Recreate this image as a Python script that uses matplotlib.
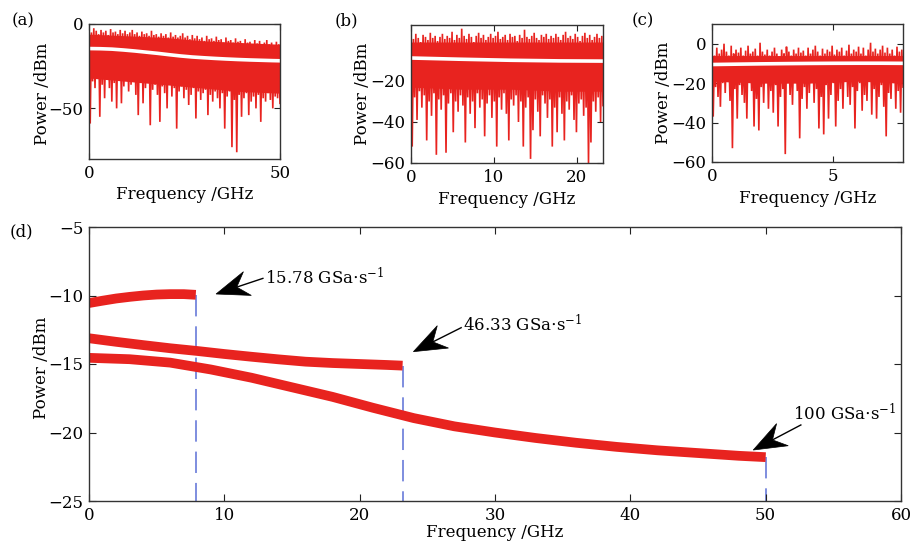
import numpy as np
import matplotlib
matplotlib.use("Agg")
import matplotlib.pyplot as plt
from matplotlib.patches import Polygon

plt.rcParams['font.family'] = ['DejaVu Serif']
plt.rcParams['mathtext.fontset'] = 'dejavuserif'
plt.rcParams['axes.unicode_minus'] = True

# ---------------- data ----------------
# panel (a): 100 GSa/s, span 0-50 GHz
span_a = 50.0
peaks_a = [-3, -5, -2.5, -4, -6, -3.5, -5, -4, -6.5, -3,
           -5, -4.5, -6, -3.5, -5.5, -4, -6, -5, -3.5, -6,
           -5, -7, -4.5, -6, -5.5, -7, -4, -6.5, -6, -7.5,
           -5.5, -7, -6, -8, -5, -7.5, -6.5, -8, -7, -5.5,
           -8, -7, -9, -6.5, -8.5, -7, -9, -8, -10, -7,
           -9, -8.5, -10, -7.5, -9.5, -9, -11, -8, -10, -9.5,
           -11, -8.5, -10.5, -10, -12, -9, -11, -10.5, -12, -9.5,
           -11.5, -10, -12.5, -11, -9.5, -12, -11, -13, -10.5, -12]
dips_a = [-59, -34, -38, -30, -55, -36, -44, -32, -38, -46,
          -35, -50, -33, -47, -37, -31, -40, -36, -34, -42,
          -54, -35, -47, -38, -33, -60, -39, -36, -42, -58,
          -37, -41, -50, -36, -43, -38, -62, -40, -37, -44,
          -39, -48, -42, -38, -56, -40, -45, -41, -39, -54,
          -42, -46, -40, -44, -50, -41, -62, -43, -40, -73,
          -45, -76, -42, -55, -44, -41, -54, -46, -43, -50,
          -42, -58, -44, -46, -41, -45, -50, -43, -44, -47]
core_a_freq = [0, 10, 20, 30, 40, 50]
core_a_top = [-6, -7, -8, -10, -11, -12]
core_a_bot = [-32, -34, -36, -38, -40, -41]

# panel (b): 46.33 GSa/s, span 0-23.17 GHz
span_b = 23.17
peaks_b = [2, 0.5, 3, 1, -1, 2.5, 1.5, 0, 3.5, 1,
           2, -0.5, 1.5, 3, 0.5, 2, 1, 4, 0, 2.5,
           1, 5.5, 2, 0.5, 3, 1.5, -1, 2, 3.5, 1,
           2.5, 0, 1.5, 3, 1, 2, 4, 0.5, 1.5, 2.5,
           0, 3, 1.5, 2, -0.5, 2.5, 1, 5, 1.5, 0.5,
           2, 3.5, 1, 0, 2.5, 1.5, 3, 0.5, 2, 1,
           3, 1.5, 0, 2.5, 4, 1, 2, 0.5, 3, 1.5,
           -0.5, 2, 3.5, 1, 2.5, 0, 1.5, 3, 1, 2]
dips_b = [-52, -28, -39, -25, -33, -27, -49, -30, -37, -26,
          -56, -29, -34, -27, -55, -31, -26, -45, -30, -35,
          -27, -32, -50, -28, -36, -30, -43, -26, -33, -29,
          -47, -31, -27, -38, -30, -52, -28, -34, -26, -36,
          -49, -29, -32, -27, -40, -30, -52, -33, -28, -58,
          -44, -29, -35, -47, -27, -31, -38, -29, -52, -33,
          -45, -28, -36, -49, -30, -34, -27, -39, -45, -31,
          -29, -37, -33, -60, -50, -30, -35, -28, -40, -32]
core_b_freq = [0, 6, 12, 18, 23.17]
core_b_top = [-1, -1, -1, -1, -1]
core_b_bot = [-23, -24, -24, -25, -25]
white_b_freq = [0, 6, 12, 18, 23.17]
white_b = [-8.8, -9.4, -9.9, -10.2, -10.3]

# panel (c): 15.78 GSa/s, span 0-7.89 GHz
span_c = 7.89
peaks_c = [-4, -6, -2, -5, -3, 0, -4, -6, -1, -5,
           -3, -4.5, -2, -6, -3.5, -1, -5, -4, -2.5, -6,
           0.5, -4, -5.5, -3, -6, -4, -2, -5, -6.5, -3,
           -5, -1.5, -4, -6, -3, -5, -2, -4.5, -3.5, -6,
           -2, -5, -3, -1, -4, -6, -2.5, -5, -3, -4,
           -1, -5.5, -3, -4, -2, -6, -3.5, -0.5, -5, -3,
           -4, -1.5, -5, -2, -6, -3, 0.5, -4, -2.5, -5,
           -3, -1, -4.5, -2, -5, -3, -6, -1.5, -4, -3]
dips_c = [-37, -22, -27, -32, -20, -25, -18, -29, -53, -23,
          -38, -21, -26, -30, -38, -19, -24, -42, -28, -44,
          -22, -30, -19, -33, -24, -35, -21, -42, -27, -23,
          -56, -20, -26, -31, -18, -24, -48, -28, -22, -33,
          -25, -19, -30, -23, -43, -27, -46, -21, -38, -26,
          -20, -42, -29, -23, -33, -18, -27, -31, -22, -43,
          -24, -20, -34, -26, -29, -19, -36, -23, -38, -27,
          -21, -32, -47, -25, -28, -20, -33, -24, -35, -22]
core_c_freq = [0, 2, 4, 6, 7.89]
core_c_top = [-6, -6, -6, -6, -6]
core_c_bot = [-19, -20, -20, -19, -20]

# panel (d): averaged spectra
f15 = [0, 1, 2, 3, 4, 5, 6, 7, 7.89]
p15 = [-10.55, -10.38, -10.22, -10.1, -10.0, -9.93, -9.9, -9.9, -9.95]
f46 = [0, 2, 4, 6, 8, 10, 12, 14, 16, 18, 20, 22, 23.17]
p46 = [-13.12, -13.38, -13.62, -13.85, -14.05, -14.27, -14.47, -14.66,
       -14.83, -14.93, -15.0, -15.07, -15.12]
f100 = [0, 3, 6, 9, 12, 15, 18, 21, 24, 27, 30, 33, 36, 39, 42, 45, 48, 50]
p100 = [-14.55, -14.65, -14.9, -15.4, -16.0, -16.7, -17.4, -18.2, -18.95,
        -19.55, -20.0, -20.4, -20.75, -21.05, -21.3, -21.5, -21.7, -21.8]
rate_labels = ["15.78 GSa$\\cdot$s$^{-1}$", "46.33 GSa$\\cdot$s$^{-1}$",
               "100 GSa$\\cdot$s$^{-1}$"]
label_pos = [(13.0, -8.72), (27.64, -12.15), (52.03, -18.58)]
arrow_tips = [(9.39, -9.89), (23.97, -14.1), (49.08, -21.28)]
arrow_tails = [(12.85, -8.75), (27.5, -12.35), (52.6, -19.45)]

RED = '#e8231f'
BLUE = '#5b6fd6'
FS = 12

fig = plt.figure(figsize=(9.12, 5.44), dpi=100)
W, H = 912.0, 544.0


def add_ax(l, t, r, b):
    return fig.add_axes([l / W, 1 - b / H, (r - l) / W, (b - t) / H])


def style(ax, ticklen=4):
    ax.tick_params(direction='in', top=True, right=True, length=ticklen,
                   width=0.8, labelsize=FS, pad=4, colors='#222222',
                   labelcolor='black')
    for s in ax.spines.values():
        s.set_linewidth(1.0)
        s.set_color('#333333')


def noise(ax, span, peaks, dips, cf, ct, cb):
    ax.fill_between(cf, ct, cb, color=RED, lw=0)
    n = len(peaks)
    ys = np.empty(2 * n)
    ys[0::2] = peaks
    ys[1::2] = dips
    xs = np.linspace(0, span, 2 * n)
    ax.plot(xs, ys, color=RED, lw=1.2, solid_joinstyle='miter')


# (a)
axa = add_ax(89, 24, 280, 159)
noise(axa, span_a, peaks_a, dips_a, core_a_freq, core_a_top, core_a_bot)
axa.plot(f100, p100, color='white', lw=2.6)
axa.set_xlim(0, 50)
axa.set_ylim(-80, 0)
axa.set_xticks([0, 50])
axa.set_yticks([-50, 0])
style(axa)

# (b)
axb = add_ax(411, 25, 603, 163)
noise(axb, span_b, peaks_b, dips_b, core_b_freq, core_b_top, core_b_bot)
axb.plot(white_b_freq, white_b, color='white', lw=2.6)
axb.set_xlim(0, 23.17)
axb.set_ylim(-60, 7.3)
axb.set_xticks([0, 10, 20])
axb.set_yticks([-60, -40, -20])
style(axb)

# (c)
axc = add_ax(712, 24, 903, 162)
noise(axc, span_c, peaks_c, dips_c, core_c_freq, core_c_top, core_c_bot)
axc.plot(f15, p15, color='white', lw=2.6)
axc.set_xlim(0, 7.89)
axc.set_ylim(-60, 10)
axc.set_xticks([0, 5])
axc.set_yticks([-60, -40, -20, 0])
style(axc)

for ax, lx, yc in [(axa, -0.2, 0.48), (axb, -0.21, 0.5), (axc, -0.21, 0.5)]:
    ax.set_xlabel('Frequency /GHz', fontsize=FS)
    ax.set_ylabel('Power /dBm', fontsize=FS)
    ax.xaxis.set_label_coords(0.5, -0.2)
    ax.yaxis.set_label_coords(lx, yc)

# (d)
axd = add_ax(89, 227, 901, 501)
lw_thick = 7.0
axd.plot(f15, p15, color=RED, lw=lw_thick, solid_capstyle='butt')
axd.plot(f46, p46, color=RED, lw=lw_thick, solid_capstyle='butt')
axd.plot(f100, p100, color=RED, lw=lw_thick, solid_capstyle='butt')
for fx, py in [(f15[-1], p15[-1]), (f46[-1], p46[-1]), (f100[-1], p100[-1])]:
    axd.plot([fx, fx], [py, -25], color=BLUE, lw=1.1,
             linestyle=(0, (14, 6.5)), zorder=1)
axd.set_xlim(0, 60)
axd.set_ylim(-25, -5)
axd.set_xticks(range(0, 61, 10))
axd.set_yticks(range(-25, -4, 5))
style(axd, ticklen=5)
axd.set_xlabel('Frequency /GHz', fontsize=FS)
axd.set_ylabel('Power /dBm', fontsize=FS)
axd.xaxis.set_label_coords(0.5, -0.085)
axd.yaxis.set_label_coords(-0.048, 0.485)


def vback_arrow(ax, tip, tail, L=33.0, w=12.5, notch=0.66):
    P = ax.transData.transform(tip)
    T = ax.transData.transform(tail)
    d = P - T
    u = d / np.hypot(*d)
    n = np.array([-u[1], u[0]])
    verts = np.array([P, P - L * u + w * n, P - notch * L * u,
                      P - L * u - w * n])
    vd = ax.transData.inverted().transform(verts)
    ax.add_patch(Polygon(vd, closed=True, facecolor='black',
                         edgecolor='black', lw=0.5, zorder=6))
    ax.plot([tail[0], vd[2][0]], [tail[1], vd[2][1]], color='black',
            lw=1.0, zorder=6)


for lab, pos, tip, tail in zip(rate_labels, label_pos, arrow_tips,
                               arrow_tails):
    axd.text(pos[0], pos[1], lab, fontsize=FS, ha='left', va='center')
    vback_arrow(axd, tip, tail)

for lab, x, y in [('(a)', 12, 21), ('(b)', 335, 21), ('(c)', 632, 21),
                  ('(d)', 10, 232)]:
    fig.text(x / W, 1 - y / H, lab, fontsize=FS, ha='left', va='center')

fig.savefig('out.png', dpi=100)
